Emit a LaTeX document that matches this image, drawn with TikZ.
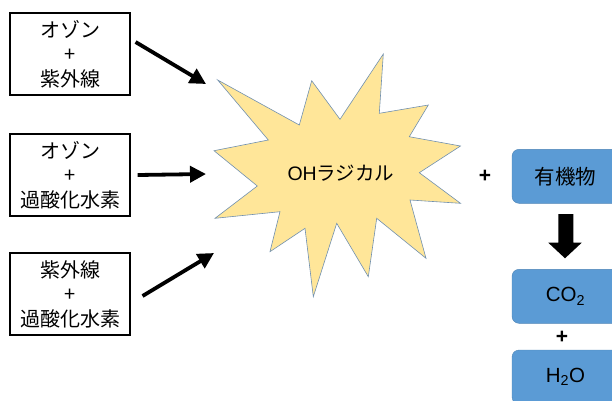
\documentclass[tikz,border=0pt]{standalone}
\usepackage{fontspec}
\setmainfont{Liberation Sans}
\newfontfamily\jp{Noto Sans CJK JP}
\usetikzlibrary{arrows.meta}
\definecolor{starfill}{HTML}{FFE699}
\definecolor{starline}{HTML}{7090B0}
\definecolor{boxblue}{HTML}{5B9BD5}
\begin{document}
\begin{tikzpicture}[x=1pt,y=-1pt,
  srcbox/.style={draw,line width=1.1pt,minimum width=120pt,minimum height=82pt,
    align=center,font=\jp\fontsize{20}{24.5}\selectfont},
  prodbox/.style={draw=boxblue!85!black,fill=boxblue,rounded corners=7pt,
    minimum width=107pt,minimum height=54pt,font=\fontsize{20.5}{22}\selectfont},
  sign/.style={font=\bfseries\fontsize{21}{22}\selectfont},
  feed/.style={line width=3.8pt,-{Triangle[length=16pt,width=16pt]}}]
\useasboundingbox (0,0) rectangle (612,400);
\clip (0,0) rectangle (612,400);
% 発生方法
\node[srcbox] (ozuv) at (70,54) {オゾン\\+\\紫外線};
\node[srcbox] (ozhp) at (70,175) {オゾン\\+\\過酸化水素};
\node[srcbox] (uvhp) at (70,294) {紫外線\\+\\過酸化水素};
% 矢印
\coordinate (a1) at (206,84);
\coordinate (a2) at (206,174);
\coordinate (a3) at (214,253);
\draw[feed] (ozuv.east) ++(5,-12) -- (a1);
\draw[feed] (ozhp.east) ++(7,0) -- (a2);
\draw[feed] (uvhp.east) ++(12,2) -- (a3);
% OHラジカル
\draw[fill=starfill,draw=starline,line width=0.6pt]
  (217.7,80) -- (299.3,125) -- (311.7,80.7) -- (340,119.3) -- (383.3,54)
  -- (379.3,113.3) -- (428.3,105) -- (409.3,136.7) -- (460.5,146)
  -- (419.3,172.7) -- (460.5,203.3) -- (410,200) -- (426,258.3)
  -- (376.7,218.3) -- (368.3,276.7) -- (336.7,223.3) -- (313.3,296.7)
  -- (305,228.3) -- (270,251.7) -- (280,211.7) -- (215,218.3)
  -- (257.3,186) -- (214,150.7) -- (268.3,140) -- cycle;
\node[font=\fontsize{19.5}{22}\selectfont] (oh) at (341,173.5) {OH{\jp ラジカル}};
% 有機物と生成物
\node[sign] (plus1) at (485,176) {+};
\node[prodbox] (org) at (565.5,176.3) {\jp 有機物};
\node[prodbox] (co) at (565.5,296.3) {CO\textsubscript{2}};
\node[sign] (plus2) at (562,337) {+};
\node[prodbox] (water) at (565.5,377) {H\textsubscript{2}O};
% 分解
\fill (558.3,214) -- (573.3,214) -- (573.3,242.7) -- (581.7,242.7)
  -- (565,258.3) -- (548.3,242.7) -- (558.3,242.7) -- cycle;
\end{tikzpicture}
\end{document}
